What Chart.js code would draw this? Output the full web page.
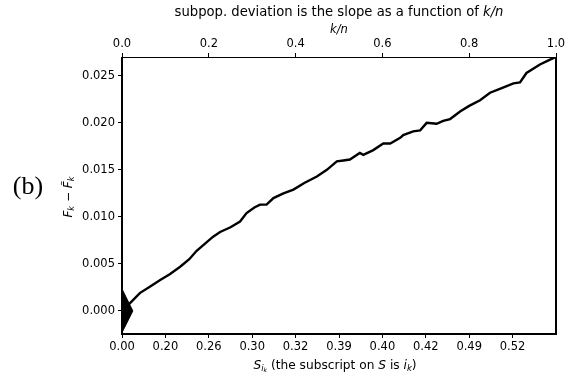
<!DOCTYPE html>
<html>
<head>
<meta charset="utf-8">
<script src="https://cdn.jsdelivr.net/npm/chart.js@4"></script>
<style>
  html, body { margin: 0; padding: 0; background: #fff; }
  #wrap { width: 571px; height: 377px; }
</style>
</head>
<body>
<div id="wrap"><canvas id="c" width="571" height="377"></canvas></div>
<script>
// cumulative deviation vs k/n
const kn = [0, 0.018, 0.041, 0.065, 0.088, 0.11, 0.134, 0.155, 0.172, 0.19, 0.21, 0.226, 0.25, 0.272,
  0.287, 0.305, 0.318, 0.333, 0.349, 0.372, 0.395, 0.42, 0.449, 0.472, 0.495, 0.51, 0.525, 0.548,
  0.556, 0.579, 0.602, 0.618, 0.641, 0.648, 0.671, 0.687, 0.702, 0.725, 0.74, 0.756, 0.779, 0.80,
  0.825, 0.848, 0.875, 0.902, 0.917, 0.932, 0.963, 0.985, 1.0];
const dev = [0, 0.0008, 0.0019, 0.0026, 0.0033, 0.0039, 0.0047, 0.0055, 0.0064, 0.0071, 0.0079, 0.0084,
  0.0089, 0.0095, 0.0104, 0.0110, 0.0113, 0.0113, 0.0120, 0.0125, 0.0129, 0.0136, 0.0143, 0.0150,
  0.0159, 0.0160, 0.0161, 0.0168, 0.0166, 0.0171, 0.0178, 0.0178, 0.0184, 0.0187, 0.0191, 0.0192,
  0.0200, 0.0199, 0.0202, 0.0204, 0.0212, 0.0218, 0.0224, 0.0232, 0.0237, 0.0242, 0.0243, 0.0253,
  0.0262, 0.0267, 0.0270];

// triangle at origin (scale indicator)
const triKn = [0, 0.025, 0];
const triDev = [0.00234, 0, -0.0023];

// bottom axis: ticks at k/n positions, labelled with S values
const bottomTickPos = [0, 0.1, 0.2, 0.3, 0.4, 0.5, 0.6, 0.7, 0.8, 0.9];
const bottomTickLabels = ['0.00', '0.20', '0.26', '0.30', '0.32', '0.39', '0.40', '0.42', '0.49', '0.52'];
const topTicks = [0, 0.2, 0.4, 0.6, 0.8, 1.0];
const yTicks = [0, 0.005, 0.010, 0.015, 0.020, 0.025];

const FONT = 'DejaVu Sans';
const curve = kn.map((x, i) => ({ x, y: dev[i] }));
const triTop = [{ x: triKn[0], y: triDev[0] }, { x: triKn[1], y: triDev[1] }];
const triBot = [{ x: triKn[1], y: triDev[1] }, { x: triKn[2], y: triDev[2] }];

function setTicks(list) {
  return s => { s.ticks = list.map(v => ({ value: v })); };
}

// draws the piecewise text runs with italic / subscripts
function drawRuns(ctx, runs, cx, cy, size) {
  const measure = r => {
    ctx.font = (r.it ? 'italic ' : '') + (size * (r.scale || 1)) + 'px ' + FONT;
    return ctx.measureText(r.t).width;
  };
  const total = runs.reduce((a, r) => a + measure(r), 0);
  let x = cx - total / 2;
  for (const r of runs) {
    const w = measure(r);
    ctx.fillText(r.t, x, cy + (r.dy || 0) * size);
    x += w;
  }
}

const framePlugin = {
  id: 'frame',
  afterDraw(chart) {
    const { ctx, chartArea: a } = chart;
    ctx.save();
    ctx.strokeStyle = '#000';
    ctx.lineWidth = 1;
    ctx.beginPath();
    ctx.moveTo(a.left, a.top + 0.5); ctx.lineTo(a.right, a.top + 0.5);
    ctx.stroke();
    ctx.lineWidth = 2;
    ctx.beginPath();
    ctx.moveTo(a.left, a.top); ctx.lineTo(a.left, a.bottom);
    ctx.lineTo(a.right, a.bottom); ctx.lineTo(a.right, a.top);
    ctx.stroke();

    ctx.fillStyle = '#000';
    ctx.textBaseline = 'middle';
    ctx.textAlign = 'left';
    const mid = (a.left + a.right) / 2;
    // title
    drawRuns(ctx, [{ t: 'subpop. deviation is the slope as a function of ' }, { t: 'k/n', it: true }], mid, 12.5, 13.2);
    // top axis title
    drawRuns(ctx, [{ t: 'k/n', it: true }], mid, 30, 11.5);
    // bottom axis title
    drawRuns(ctx, [
      { t: 'S', it: true }, { t: 'i', it: true, scale: 0.7, dy: 0.25 }, { t: 'k', it: true, scale: 0.5, dy: 0.4 },
      { t: ' (the subscript on ' }, { t: 'S', it: true }, { t: ' is ' }, { t: 'i', it: true },
      { t: 'k', it: true, scale: 0.7, dy: 0.25 }, { t: ')' }
    ], mid - 4, 366, 12.2);
    // y axis title, rotated
    ctx.save();
    ctx.translate(69, 197);
    ctx.rotate(-Math.PI / 2);
    drawRuns(ctx, [
      { t: 'F', it: true }, { t: 'k', it: true, scale: 0.7, dy: 0.25 }, { t: ' \u2212 ' },
      { t: 'F\u0303', it: true }, { t: 'k', it: true, scale: 0.7, dy: 0.25 }
    ], 0, 0, 12);
    ctx.restore();
    // panel label
    ctx.font = '26px "Liberation Serif"';
    ctx.textAlign = 'center';
    ctx.fillText('(b)', 28, 187);
    ctx.restore();
  }
};

const tickFont = { family: FONT, size: 11.5 };
const gridOpts = { drawOnChartArea: false, drawTicks: true, tickLength: 4, color: '#000', lineWidth: 1 };

new Chart(document.getElementById('c'), {
  type: 'line',
  data: {
    datasets: [
      { data: triTop, xAxisID: 'x', yAxisID: 'y', borderColor: '#000', borderWidth: 1, backgroundColor: '#000',
        fill: { value: 0 }, pointRadius: 0, tension: 0 },
      { data: triBot, xAxisID: 'x', yAxisID: 'y', borderColor: '#000', borderWidth: 1, backgroundColor: '#000',
        fill: { value: 0 }, pointRadius: 0, tension: 0 },
      { data: curve, xAxisID: 'x', yAxisID: 'y', borderColor: '#000', borderWidth: 2.4, fill: false,
        pointRadius: 0, tension: 0 }
    ]
  },
  options: {
    responsive: false,
    animation: false,
    layout: { padding: { left: 0, right: 15, top: 0, bottom: 0 } },
    plugins: { legend: { display: false }, tooltip: { enabled: false }, title: { display: false } },
    scales: {
      x: {
        type: 'linear', position: 'bottom', min: 0, max: 1,
        afterBuildTicks: setTicks(bottomTickPos),
        afterFit: s => { s.height = 43; },
        ticks: { font: tickFont, color: '#000', padding: 2, maxRotation: 0, autoSkip: false,
          callback: (v, i) => bottomTickLabels[i] },
        grid: gridOpts, border: { display: false }
      },
      x2: {
        type: 'linear', position: 'top', min: 0, max: 1,
        afterBuildTicks: setTicks(topTicks),
        afterFit: s => { s.height = 57; },
        ticks: { font: tickFont, color: '#000', padding: 2, maxRotation: 0, autoSkip: false,
          callback: v => v.toFixed(1) },
        grid: gridOpts, border: { display: false }
      },
      y: {
        type: 'linear', position: 'left', min: -0.00245, max: 0.027,
        afterBuildTicks: setTicks(yTicks),
        afterFit: s => { s.width = 122; },
        ticks: { font: tickFont, color: '#000', padding: 3, callback: v => v.toFixed(3) },
        grid: gridOpts, border: { display: false }
      }
    }
  },
  plugins: [framePlugin]
});
</script>
</body>
</html>
